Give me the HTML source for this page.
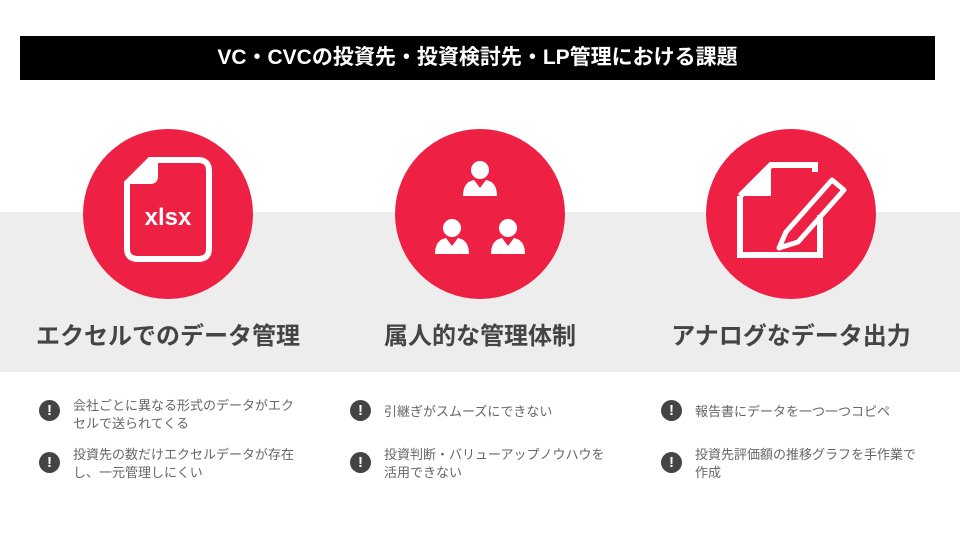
<!DOCTYPE html>
<html><head><meta charset="utf-8"><style>
body{margin:0;width:960px;height:540px;background:#fff;position:relative;overflow:hidden;font-family:"Liberation Sans","Noto Sans CJK JP",sans-serif}
.bar{position:absolute;left:20px;top:36px;width:915px;height:44px;background:#000;color:#fff;font-weight:bold;font-size:21px;line-height:44px;text-align:center}
.band{position:absolute;left:0;top:212px;width:960px;height:160px;background:#ededed}
.c{position:absolute;width:170px;height:170px;border-radius:50%;background:#ee2043;top:129px}
.h{position:absolute;top:316px;font-size:24px;font-weight:bold;color:#444;text-align:center;width:320px}
.b{position:absolute;font-size:13px;color:#666;line-height:18px;width:228px}
.i{position:absolute;width:21px;height:21px;border-radius:50%;background:#444;color:#fff;font-weight:bold;font-size:15px;line-height:21px;text-align:center}
</style></head><body>
<div class="bar">VC・CVCの投資先・投資検討先・LP管理における課題</div>
<div class="band"></div>
<div class="c" style="left:83px"></div>
<div class="c" style="left:395px"></div>
<div class="c" style="left:706px"></div>
<svg style="position:absolute;left:0;top:0" width="960" height="540">
<path d="M127,183 L150,160 L198,160 Q209,160 209,171 L209,249 Q209,259 198,259 L138,259 Q127,259 127,249 Z" fill="none" stroke="#fff" stroke-width="6"/>
<path d="M124,184 L150,158 L158,158 L158,176 Q158,184 150,184 Z" fill="#fff"/>
<text x="168" y="225" fill="#fff" font-size="24" font-weight="bold" text-anchor="middle" font-family="Liberation Sans,sans-serif">xlsx</text>
<g fill="#fff">
<g transform="translate(480,178)"><circle cx="0" cy="-8" r="9"/><path d="M-17,18 Q-17,4 -6,2 L0,10 L6,2 Q17,4 17,18 Z"/></g>
<g transform="translate(452,236)"><circle cx="0" cy="-8" r="9"/><path d="M-17,18 Q-17,4 -6,2 L0,10 L6,2 Q17,4 17,18 Z"/></g>
<g transform="translate(508,236)"><circle cx="0" cy="-8" r="9"/><path d="M-17,18 Q-17,4 -6,2 L0,10 L6,2 Q17,4 17,18 Z"/></g>
</g>
<g fill="none" stroke="#fff" stroke-width="6">
<path d="M740,196 L740,255 L820,255 L820,215"/>
<path d="M740,196 L771,165 L815,165 L815,172"/>
</g>
<path d="M740,196 L771,165 L771,196 Z" fill="#fff"/>
<path d="M786,232 L832,180 L844,190 L798,242 L779,248 Z" fill="none" stroke="#fff" stroke-width="5" stroke-linejoin="round"/>
</svg>
<div class="h" style="left:8px">エクセルでのデータ管理</div>
<div class="h" style="left:320px">属人的な管理体制</div>
<div class="h" style="left:631px">アナログなデータ出力</div>
<div class="i" style="left:39px;top:400px">!</div>
<div class="b" style="left:73px;top:397px">会社ごとに異なる形式のデータがエクセルで送られてくる</div>
<div class="i" style="left:39px;top:452px">!</div>
<div class="b" style="left:73px;top:446px">投資先の数だけエクセルデータが存在し、一元管理しにくい</div>
<div class="i" style="left:350px;top:400px">!</div>
<div class="b" style="left:384px;top:403px">引継ぎがスムーズにできない</div>
<div class="i" style="left:350px;top:452px">!</div>
<div class="b" style="left:384px;top:446px">投資判断・バリューアップノウハウを活用できない</div>
<div class="i" style="left:661px;top:400px">!</div>
<div class="b" style="left:695px;top:403px">報告書にデータを一つ一つコピペ</div>
<div class="i" style="left:661px;top:452px">!</div>
<div class="b" style="left:695px;top:446px">投資先評価額の推移グラフを手作業で作成</div>
</body></html>
